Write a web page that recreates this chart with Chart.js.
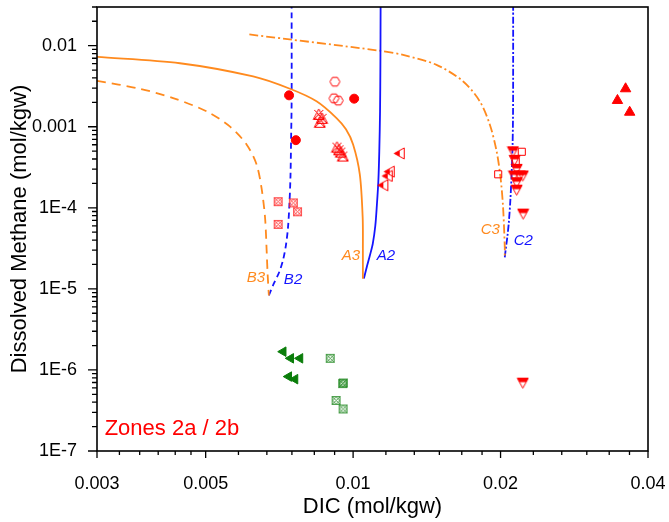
<!DOCTYPE html>
<html>
<head>
<meta charset="utf-8">
<script src="https://cdn.jsdelivr.net/npm/chart.js@4.4.0/dist/chart.umd.min.js"></script>
<style>
  html, body { margin: 0; padding: 0; background: #fff; }
</style>
</head>
<body>
<canvas id="myChart" width="669" height="522"></canvas>
<script>
// axis ticks
const xMajor = [0.003, 0.005, 0.01, 0.02, 0.04];
const xLabels = ['0.003', '0.005', '0.01', '0.02', '0.04'];
const yMajor = [1e-7, 1e-6, 1e-5, 1e-4, 1e-3, 1e-2];
const yLabels = ['1E-7', '1E-6', '1E-5', '1E-4', '0.001', '0.01'];

// model curves, [DIC, CH4]
const curveA3 = [[0.003, 0.00726], [0.00443, 0.00607], [0.00625, 0.00417], [0.00743, 0.00294], [0.00842, 0.00206],
  [0.00925, 0.00128], [0.00967, 0.00093], [0.0100, 6.05e-4], [0.01032, 2.59e-4], [0.01046, 7.6e-5], [0.01047, 2.97e-5], [0.01047, 1.33e-5]];
const curveA2 = [[0.01052, 1.345e-5], [0.01067, 1.89e-5], [0.01082, 2.58e-5], [0.01097, 3.62e-5], [0.0111, 6.01e-5], [0.01118, 1.06e-4],
  [0.01126, 2.14e-4], [0.01131, 5.0e-4], [0.01135, 1.55e-3], [0.01137, 0.00637], [0.01138, 0.03]];
const curveB3 = [[0.003, 0.00369], [0.00367, 0.00294], [0.00429, 0.00226], [0.00502, 0.00155], [0.0056, 0.00101], [0.00606, 6.05e-4],
  [0.00635, 3.44e-4], [0.0065, 1.77e-4], [0.00661, 7.6e-5], [0.00666, 2.97e-5], [0.00669, 1.54e-5], [0.00673, 8.3e-6]];
const curveB2 = [[0.00673, 8.3e-6], [0.00689, 1.167e-5], [0.00706, 1.593e-5], [0.00719, 2.24e-5], [0.00729, 3.42e-5], [0.00736, 5.53e-5],
  [0.00741, 1.06e-4], [0.00745, 2.47e-4], [0.00747, 6.64e-4], [0.00749, 2.06e-3], [0.00749, 0.03]];
const curveC3 = [[0.00614, 0.01376], [0.0113, 0.00869], [0.01265, 0.00769], [0.0148, 0.0058], [0.01678, 0.00362], [0.01814, 0.00206],
  [0.01902, 0.00106], [0.01963, 5.0e-4], [0.0200, 2.35e-4], [0.02024, 1.01e-4], [0.0204, 3.26e-5], [0.0204, 2.5e-5]];
const curveC2 = [[0.0204, 2.44e-5], [0.0205, 3.14e-5], [0.02064, 4.28e-5], [0.02079, 6.55e-5], [0.02094, 1.22e-4], [0.02106, 2.47e-4],
  [0.02116, 5.77e-4], [0.02121, 1.55e-3], [0.02122, 0.00637], [0.02122, 0.03]];

// samples, [DIC, CH4]
const filledCircles = [[0.0074, 0.00244], [0.00764, 6.83e-4], [0.01005, 0.00222]];
const openHexagons = [[0.00918, 0.00359], [0.00914, 0.00224], [0.00932, 0.0021]];
const crossTriangles = [[0.00851, 0.00142], [0.00864, 0.00127], [0.00855, 0.001135], [0.00927, 5.6e-4], [0.00936, 5.2e-4], [0.00944, 4.87e-4], [0.00953, 4.35e-4]];
const redCrossSquares = [[0.00703, 1.19e-4], [0.00703, 6.24e-5], [0.00755, 1.15e-4], [0.0077, 8.93e-5]];
const leftTriangles = [[0.01242, 4.69e-4], [0.01185, 2.79e-4], [0.01174, 2.47e-4], [0.0115, 1.9e-4]];
const upTriangles = [[0.036, 0.00294], [0.03465, 0.00211], [0.0367, 0.00151]];
const openSquares = [[0.0221, 4.91e-4], [0.02148, 3.77e-4], [0.01978, 2.59e-4]];
const downTriangles = [[0.0212, 4.91e-4], [0.02137, 3.85e-4], [0.02157, 2.98e-4], [0.0213, 2.47e-4], [0.0219, 2.47e-4], [0.0222, 2.47e-4],
  [0.02157, 2.04e-4], [0.02157, 1.65e-4], [0.02224, 8.37e-5], [0.0222, 6.87e-7]];
const greenTriangles = [[0.0072, 1.68e-6], [0.00746, 1.39e-6], [0.00779, 1.39e-6], [0.00739, 8.28e-7], [0.00761, 7.69e-7]];
const greenCrossSquares = [[0.00898, 1.39e-6], [0.00952, 6.79e-7], [0.00955, 6.9e-7], [0.00923, 4.2e-7], [0.00954, 3.3e-7]];

const curveLabels = [
  { text: 'A3', x: 0.0099, y: 2.58e-5, color: 'orange' },
  { text: 'A2', x: 0.01167, y: 2.58e-5, color: 'blue' },
  { text: 'B3', x: 0.00633, y: 1.36e-5, color: 'orange' },
  { text: 'B2', x: 0.00754, y: 1.31e-5, color: 'blue' },
  { text: 'C3', x: 0.01906, y: 5.37e-5, color: 'orange' },
  { text: 'C2', x: 0.02226, y: 3.94e-5, color: 'blue' }
];

const ORANGE = '#ff8a1e';
const BLUE = '#1414ff';
const RED = '#ff0000';
const GREEN = '#0a7d0a';
const FONT = 'Arial, "Liberation Sans", sans-serif';

const pts = arr => arr.map(p => ({ x: p[0], y: p[1] }));

// minor ticks: 6 steps between majors on x, 1..9 per decade on y
const xTicks = [];
xMajor.forEach((m, i) => {
  xTicks.push(m);
  if (i < xMajor.length - 1) {
    const step = (xMajor[i + 1] - m) / 6;
    for (let k = 1; k < 6; k++) xTicks.push(m + k * step);
  }
});
const yTicks = [];
for (let e = -7; e <= -2; e++) {
  for (let k = 1; k <= 9; k++) {
    const v = k * Math.pow(10, e);
    if (v <= 0.0300001) yTicks.push(v);
  }
}
const labelFor = (v, majors, labels) => {
  const i = majors.findIndex(m => Math.abs(m - v) / m < 1e-6);
  return i >= 0 ? labels[i] : '';
};

// custom markers
function marker(size, draw) {
  const c = document.createElement('canvas');
  c.width = size; c.height = size;
  const g = c.getContext('2d');
  g.lineWidth = 1;
  draw(g, size);
  return c;
}
const hexagon = marker(13, (g, s) => {
  g.strokeStyle = RED;
  g.beginPath();
  for (let i = 0; i < 6; i++) {
    const a = Math.PI / 3 * i;
    const px = s / 2 + 5 * Math.cos(a), py = s / 2 + 5 * Math.sin(a);
    i ? g.lineTo(px, py) : g.moveTo(px, py);
  }
  g.closePath(); g.stroke();
});
const crossSquare = col => marker(11, (g, s) => {
  g.strokeStyle = col;
  g.strokeRect(1.5, 1.5, s - 3, s - 3);
  g.beginPath();
  g.moveTo(1.5, 1.5); g.lineTo(s - 1.5, s - 1.5);
  g.moveTo(s - 1.5, 1.5); g.lineTo(1.5, s - 1.5);
  g.moveTo(s / 2 + 3, s / 2); g.arc(s / 2, s / 2, 3, 0, Math.PI * 2);
  g.stroke();
});
const crossTriangle = marker(13, (g, s) => {
  g.strokeStyle = RED;
  g.beginPath();
  g.moveTo(s / 2, 1); g.lineTo(s - 1, s - 1.5); g.lineTo(1, s - 1.5); g.closePath();
  g.moveTo(2, 2); g.lineTo(s - 2, s - 2);
  g.moveTo(s - 2, 2); g.lineTo(2, s - 2);
  g.stroke();
});
function halfTriangle(verts, fillRect) {
  return marker(13, (g, s) => {
    g.beginPath();
    verts.forEach((v, i) => i ? g.lineTo(v[0], v[1]) : g.moveTo(v[0], v[1]));
    g.closePath();
    g.save(); g.clip();
    g.fillStyle = RED;
    g.fillRect(fillRect[0], fillRect[1], fillRect[2], fillRect[3]);
    g.restore();
    g.strokeStyle = RED;
    g.stroke();
  });
}
const downTri = halfTriangle([[1, 1.5], [12, 1.5], [6.5, 11.5]], [0, 0, 13, 5.5]);
const leftTri = halfTriangle([[1.5, 6.5], [11.5, 1], [11.5, 12]], [0, 0, 7, 13]);

function curve(data, color, dash) {
  return {
    data: pts(data), showLine: true, pointRadius: 0, borderColor: color, borderWidth: 1.8,
    borderDash: dash, tension: 0.3, fill: false, order: 2
  };
}
function markers(data, style, extra) {
  return Object.assign({ data: pts(data), pointStyle: style, pointRadius: 5, order: 1 }, extra || {});
}

const decorations = {
  id: 'decorations',
  afterDraw(chart) {
    const { ctx, chartArea: a, scales: { x, y } } = chart;
    ctx.save();
    ctx.strokeStyle = '#000';
    ctx.lineWidth = 1.6;
    ctx.strokeRect(a.left, a.top, a.right - a.left, a.bottom - a.top);
    ctx.lineWidth = 1.3;
    ctx.beginPath();
    x.ticks.forEach(t => {
      const px = x.getPixelForValue(t.value);
      ctx.moveTo(px, a.bottom); ctx.lineTo(px, a.bottom + (t.label ? 7 : 4));
    });
    y.ticks.forEach(t => {
      const py = y.getPixelForValue(t.value);
      ctx.moveTo(a.left - (t.label ? 9 : 5), py); ctx.lineTo(a.left, py);
    });
    ctx.stroke();

    ctx.textAlign = 'center';
    ctx.textBaseline = 'middle';
    ctx.font = 'italic 15px ' + FONT;
    curveLabels.forEach(l => {
      ctx.fillStyle = l.color === 'orange' ? ORANGE : BLUE;
      ctx.fillText(l.text, x.getPixelForValue(l.x), y.getPixelForValue(l.y));
    });
    ctx.textAlign = 'left';
    ctx.font = '22px ' + FONT;
    ctx.fillStyle = RED;
    ctx.fillText('Zones 2a / 2b', x.getPixelForValue(0.00311), y.getPixelForValue(1.89e-7));
    ctx.restore();
  }
};

const ctx = document.getElementById('myChart');
new Chart(ctx, {
  type: 'scatter',
  data: {
    datasets: [
      curve(curveA3, ORANGE, []),
      curve(curveA2, BLUE, []),
      curve(curveB3, ORANGE, [9, 6]),
      curve(curveB2, BLUE, [6, 4]),
      curve(curveC3, ORANGE, [9, 3, 2, 3]),
      curve(curveC2, BLUE, [7, 2, 2, 2]),
      markers(filledCircles, 'circle', { backgroundColor: RED, borderColor: RED, pointRadius: 4.5 }),
      markers(openHexagons, hexagon),
      markers(crossTriangles, crossTriangle),
      markers(redCrossSquares, crossSquare('rgba(255,40,40,0.8)')),
      markers(leftTriangles, leftTri),
      markers(upTriangles, 'triangle', { backgroundColor: RED, borderColor: RED, pointRadius: 6 }),
      markers(openSquares, 'rect', { backgroundColor: 'rgba(0,0,0,0)', borderColor: RED, borderWidth: 1, pointRadius: 5 }),
      markers(downTriangles, downTri),
      markers(greenTriangles, 'triangle', { backgroundColor: GREEN, borderColor: GREEN, pointRadius: 5.5, rotation: -90 }),
      markers(greenCrossSquares, crossSquare('rgba(40,140,40,0.8)'))
    ]
  },
  options: {
    responsive: false,
    animation: false,
    layout: { padding: { top: 6, right: 21, left: 0, bottom: 0 } },
    plugins: { legend: { display: false }, tooltip: { enabled: false } },
    scales: {
      x: {
        type: 'logarithmic', min: 0.003, max: 0.04,
        afterBuildTicks: s => { s.ticks = xTicks.map(v => ({ value: v })); },
        afterFit: s => { s.height = 71; s.paddingLeft = 0; s.paddingRight = 0; },
        grid: { display: false },
        border: { display: false },
        ticks: {
          autoSkip: false, maxRotation: 0, minRotation: 0, padding: 14, color: '#000',
          font: { family: FONT, size: 18 },
          callback: v => labelFor(v, xMajor, xLabels)
        },
        title: { display: true, text: 'DIC (mol/kgw)', color: '#000', font: { family: FONT, size: 22, lineHeight: 1.2 }, padding: { top: 0, bottom: 2 } }
      },
      y: {
        type: 'logarithmic', min: 1e-7, max: 0.03,
        afterBuildTicks: s => { s.ticks = yTicks.map(v => ({ value: v })); },
        afterFit: s => { s.width = 97; s.paddingTop = 0; s.paddingBottom = 0; },
        grid: { display: false },
        border: { display: false },
        ticks: {
          autoSkip: false, padding: 12, color: '#000',
          font: { family: FONT, size: 18 },
          callback: v => labelFor(v, yMajor, yLabels)
        },
        title: { display: true, text: 'Dissolved Methane (mol/kgw)', color: '#000', font: { family: FONT, size: 22, lineHeight: 1.2 }, padding: { top: 7, bottom: 0 } }
      }
    }
  },
  plugins: [decorations]
});
</script>
</body>
</html>
